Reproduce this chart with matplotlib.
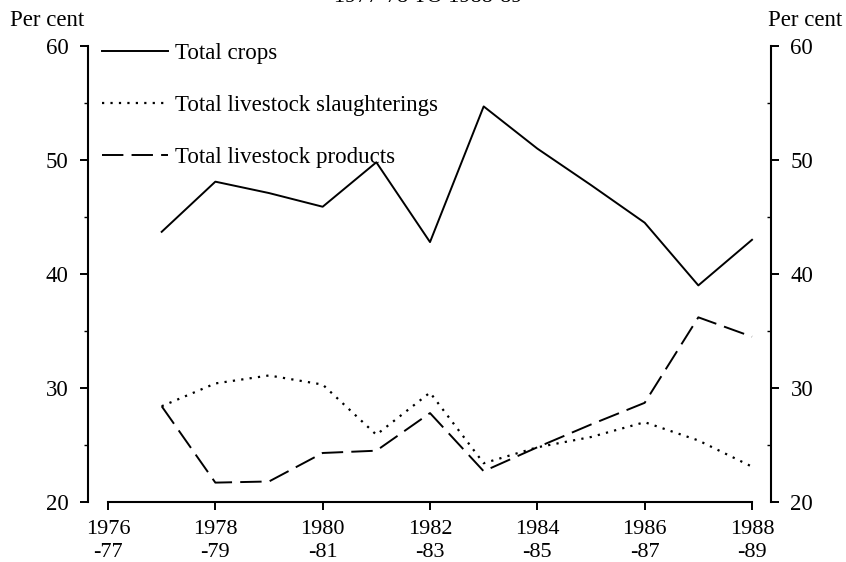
import numpy as np
import matplotlib
matplotlib.use("Agg")
import matplotlib.pyplot as plt
from matplotlib.ticker import MultipleLocator

plt.rcParams['font.family'] = ['Liberation Serif', 'DejaVu Serif']

years = [1977, 1978, 1979, 1980, 1981, 1982, 1983, 1984, 1985, 1986, 1987, 1988]
crops = [43.7, 48.1, 47.1, 45.9, 49.8, 42.8, 54.7, 51.0, 47.8, 44.5, 39.0, 43.0]
slaughterings = [28.4, 30.4, 31.1, 30.3, 25.9, 29.6, 23.4, 24.8, 25.7, 27.0, 25.4, 23.1]
products = [28.4, 21.7, 21.8, 24.3, 24.5, 27.8, 22.7, 24.8, 26.8, 28.7, 36.2, 34.5]

tick_years = [1976, 1978, 1980, 1982, 1984, 1986, 1988]
tick_labels = ["1976\n-77", "1978\n-79", "1980\n-81", "1982\n-83", "1984\n-85", "1986\n-87", "1988\n-89"]

fig = plt.figure(figsize=(8.46, 5.62), dpi=100)
ax = fig.add_axes([88 / 846, 1 - 502 / 562, 683 / 846, 456 / 562])

ax.plot(years, crops, color='black', lw=1.4, label='Total crops')
ax.plot(years, slaughterings, color='black', lw=1.6, linestyle=(0, (1, 2.8)),
        label='Total livestock slaughterings')
ax.plot(years, products, color='black', lw=1.4, linestyle=(0, (11, 4.2)),
        label='Total livestock products')

ax.set_xlim(1975.627, 1988.354)
ax.set_ylim(20, 60)

for s in ['top', 'right']:
    ax.spines[s].set_visible(False)
ax.spines['bottom'].set_bounds(1976, 1988)
ax.spines['left'].set_bounds(20, 60)
for s in ['left', 'bottom']:
    ax.spines[s].set_linewidth(1.5)

ax.set_xticks(tick_years)
ax.set_xticklabels(tick_labels, linespacing=1.3)
ax.yaxis.set_major_locator(MultipleLocator(10))
ax.yaxis.set_minor_locator(MultipleLocator(5))
ax.tick_params(axis='x', which='major', direction='out', length=6, width=1.4,
               labelsize=16, pad=7)
ax.tick_params(axis='y', which='major', direction='out', length=6, width=1.4,
               labelsize=16.5, pad=8)
ax.tick_params(axis='y', which='minor', direction='out', length=3, width=1.0)

ax2 = ax.twinx()
ax2.set_ylim(20, 60)
for s in ['top', 'left', 'bottom']:
    ax2.spines[s].set_visible(False)
ax2.spines['right'].set_bounds(20, 60)
ax2.spines['right'].set_linewidth(1.5)
ax2.yaxis.set_major_locator(MultipleLocator(10))
ax2.yaxis.set_minor_locator(MultipleLocator(5))
ax2.tick_params(axis='y', which='major', direction='out', length=6, width=1.4,
                labelsize=16.5, pad=8)
ax2.tick_params(axis='y', which='minor', direction='in', length=3, width=1.0)

leg = ax.legend(loc='upper left', bbox_to_anchor=(14 / 683, 1.007), frameon=False,
                fontsize=16.5, handlelength=2.9, handletextpad=0.3,
                labelspacing=1.35, borderpad=0, borderaxespad=0)

fig.text(10 / 846, 1 - 21 / 562, 'Per cent', fontsize=16.5, ha='left', va='center')
fig.text(768 / 846, 1 - 21 / 562, 'Per cent', fontsize=16.5, ha='left', va='center')
fig.text(428 / 846, 1.005, '1977-78 TO 1988-89', fontsize=16, ha='center', va='center')

fig.savefig('out.png', dpi=100)
